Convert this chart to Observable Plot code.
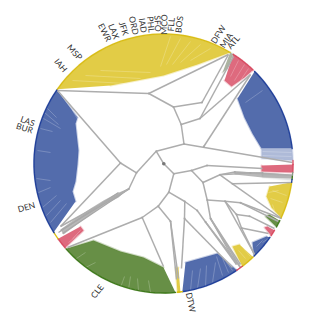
<!DOCTYPE html>
<html><head><meta charset="utf-8">
<script src="https://cdn.jsdelivr.net/npm/d3@7"></script>
<script src="https://cdn.jsdelivr.net/npm/@observablehq/plot@0.6"></script>
<style>html,body{margin:0;padding:0;background:#fff}svg{display:block}</style>
</head><body><div id="c"></div>
<script>
// Airport labels: name, x, y, rotation
const airports = [
 ["IAH",60,65,50],["MSP",74,52,48],["EWR",104,32,63],["LAX",113,31,68],["JFK",123,28,72],
 ["ORD",133,25,77],["IAD",142,25,81],["PHL",150,24,84],["SFO",157,23,87],
 ["MCO",164,24,-89],["FLL",171,24,-86],["BOS",179,24,-83],
 ["DFW",218,34,-58],["MIA",226,40,-55],["ATL",233,42,-50],
 ["LAS",27,121,20],["BUR",24,128,17],["DEN",26,207,-16],["CLE",97,291,-52],["DTW",190,302,78]
];
// Tree nodes of the phylogram
const nodes = {
 root:[163.3,163.3],a:[183.5,143.5],b:[155.7,150.7],d:[173.3,173.3],e:[191,170],f:[206.5,165],
 g:[202.5,182],h:[168.3,191.7],i:[136,172.3],j:[120,162.5],k:[128.3,188.5],kk:[180.7,124],
 l:[173,106.5],m:[199.5,118],n:[201.5,102],o:[148.3,93],p:[203.3,146],q:[219.5,174.3],r:[234.3,171.5],
 s:[232,183.3],t:[206.7,199.5],u:[224.5,200.7],v:[240,202.3],x:[236,214],y:[249,215.7],w:[241,227.5],
 z:[210,218],h1:[157.7,205.7],h2:[184.3,201],h3:[170,220.7],h4:[141.7,217],h5:[184,218],h6:[196.7,210],h7:[205,221.5],
 r2:[250,172.5],r3:[262,172.5]
};
// Branch ends at the rim or at a fan
const tips = {
 iah:[57,90],top1:[228,54],top2:[233,56],atl:[250,74],blueR:[292,162],redBar:[262,168],
 lasB:[60,226],cle:[67,247],sfan:[291,182],grnA:[281,218],grnB:[278,221],redA:[274,228],redB:[268,233],
 blueS:[254,254],ylwS:[240,264],redL:[240,267],blueB:[232,267],blueC:[236,264],
 ylwB1:[176,279],ylwB2:[178,278],ylwB3:[181,268],grnB1:[163,266],dot:[292,175],bun:[262,176]
};
const treeEdges = [
 ["root","b"],["b","a"],["b","i"],["root","d"],["a","kk"],["kk","l"],["kk","m"],["l","n"],["l","o"],
 ["o","iah"],["o","top1"],["n","top1"],["m","top2"],["m","atl"],["p","atl"],["a","blueR"],
 ["i","j"],["i","k"],["j","iah"],["j","lasB"],["k","lasB"],
 ["d","e"],["d","h"],["e","f"],["e","g"],["f","redBar"],["g","q"],["g","t"],["q","r"],["q","s"],["r","r2"],["r2","r3"],["r3","bun"],
 ["q","r2"],["r2","dot"],["s","sfan"],["s","grnA"],["t","u"],["t","z"],["u","v"],["u","x"],["v","grnA"],["v","grnB"],
 ["x","y"],["x","w"],["y","redA"],["w","redB"],["w","blueS"],["u","blueS"],["z","redL"],["z","ylwS"],
 ["h","h1"],["h","h2"],["h1","h3"],["h1","h4"],["h4","cle"],["h4","grnB1"],["h3","ylwB1"],["h3","ylwB2"],
 ["h2","h5"],["h2","h6"],["h5","ylwB3"],["h5","blueB"],["h6","h7"],["h7","redL"],["h7","blueC"],["z","blueC"]
];
// Fans: id, colour, rim start, rim end, inner envelope (from rim end back to rim start)
const yellow="#e0c93c", blue="#4a64a8", green="#5f893c", red="#dc6277";
const fans = [
 ["topYellow",yellow,[57,89],[229,53],[[197,64],[163,75],[110,85]]],
 ["leftBlue",blue,[59,228],[57,90],[[77,117],[75,123],[78,150],[77,164],[75,181],[72,191],[75,201]]],
 ["rightBlue",blue,[254,71],[292,148],[[261,148],[252,133],[244,117],[237,98]]],
 ["bottomGreen",green,[175,292],[66,248],[[93,240],[120,251],[143,257],[163,267]]],
 ["bottomBlue",blue,[182,292],[235,268],[[217,253],[210,255],[185,262]]],
 ["redTop",red,[232,55],[252,70],[[244,77],[231,86],[224,80]]],
 ["redLeft",red,[58,238],[65,247],[[83,230],[80,226]]],
 ["redBar",red,[293,164],[292,172],[[261,171],[261,165]]],
 ["ylwRight",yellow,[292,182],[280,217],[[271,207],[266,196],[269,186]]],
 ["ylwSmall",yellow,[253,257],[242,266],[[232,246],[239,244]]],
 ["ylwStrip",yellow,[180,292],[177,292],[[175,267],[178,267]]],
 ["blueSmall",blue,[271,238],[254,256],[[252,242],[266,236]]],
 ["redSmall",red,[276,231],[272,236],[[264,227],[267,226]]],
 ["grnSmall",green,[281,221],[277,227],[[265,216],[269,214]]],
 ["paleBlueR","#aab6d6",[292,148],[293,160],[[261,158],[261,148]]],
 ["paleGrey","#dfe2e2",[293,174],[292,180],[[262,177],[262,172]]],
 ["paleGreenTop","#a7b09c",[229,53],[232,55],[[227,68],[222,72]]]
];
// Rim segments not covered by a fan
const rimExtras = [
 [[293,160],[293,164],"#d84a60"],[[292,172],[292,176],"#8a9a8a"],[[292,176],[292,179],"#3e7a18"],[[292,179],[292,182],"#1f3f9a"],
 [[235,268],[242,266],"#d84a60"],[[177,292],[182,292],"#dcc010"],[[58,238],[54,232],"#dcc010"],[[59,228],[54,232],"#1f3f9a"]
];
const rimColours = {[yellow]:"#d9bd17",[blue]:"#21409a",[green]:"#3f7a1c",[red]:"#d84a60"};
// Lighter strands visible inside the fans: x1,y1,x2,y2,colour
const strands = [
 [44,112,58,124,"#fff"],[43,118,60,128,"#fff"],[47,108,56,117,"#fff"],[40,128,52,131,"#fff"],[37,150,50,152,"#fff"],
 [36,178,50,180,"#fff"],[38,192,50,187,"#fff"],[42,207,56,195,"#fff"],[46,215,60,200,"#fff"],[50,222,66,203,"#fff"],
 [72,110,80,124,"#fff"],
 [73,260,85,252,"#fff"],[83,268,95,262,"#fff"],[120,287,124,276,"#fff"],[128,289,130,276,"#fff"],[138,290,137,278,"#fff"],[150,292,148,280,"#fff"],
 [190,290,192,270,"#fff"],[197,288,200,268,"#fff"],[205,286,206,265,"#fff"],[212,282,215,262,"#fff"],[222,275,216,256,"#fff"],[228,272,222,258,"#fff"],[232,270,226,262,"#fff"],
 [170,36,160,66,"#fff"],[180,38,166,64,"#fff"],[190,41,172,64,"#fff"],[200,44,180,62,"#fff"],[210,48,190,60,"#fff"],[100,70,150,72,"#fff"],[85,75,140,78,"#fff"],[72,80,125,83,"#fff"],
 [278,190,268,192,"#fff"],[282,202,270,198,"#fff"],[274,210,272,204,"#fff"],[286,195,272,190,"#fff"],[245,258,238,250,"#fff"],[250,256,243,248,"#fff"],
 [238,60,230,76,"#fff"],[244,64,234,80,"#fff"],[248,68,240,80,"#fff"],
 [72,238,80,230,"#fff"],[68,242,78,234,"#fff"],[262,90,245,102,"#fff"],[262,240,256,246,"#fff"],[268,238,262,242,"#fff"],
 [262,151,291,152,"#fff"],[262,155,291,156,"#fff"]
];
// Thick grey bundles: lower-left and right of the centre
const bundleLeft = [[128,188],[116,193],[103,200],[90,208],[78,216],[60,229],[63,234],[82,220],[103,205],[118,197]];
const bundleRight = [[234,171],[262,172],[292,174],[292,178],[262,177],[234,174]];
const bundleLines = [[128.5,188,60,230],[128.5,188.5,62,233],[118,192,58,232]];

// --- geometry helpers ---
const cx=163, cy=163, R=129.5;
const ang = p => Math.atan2(p[1]-cy,p[0]-cx);
function arc(a,b){
  const s=ang(a); let d=ang(b)-s;
  while(d<-Math.PI)d+=2*Math.PI; while(d>Math.PI)d-=2*Math.PI;
  return d3.range(0,25).map(k=>[cx+R*Math.cos(s+d*k/24),cy+R*Math.sin(s+d*k/24)]);
}
const all={...nodes,...tips};
const links=treeEdges.map(([p,q])=>({x1:all[p][0],y1:all[p][1],x2:all[q][0],y2:all[q][1]}));
const fanRows=fans.flatMap(([id,colour,a,b,inner])=>[...arc(a,b),...inner].map(p=>({id,colour,x:p[0],y:p[1]})));
const rimRows=[
 ...fans.filter(f=>rimColours[f[1]]).flatMap(([id,colour,a,b])=>arc(a,b).map(p=>({id,colour:rimColours[colour],x:p[0],y:p[1]}))),
 ...rimExtras.flatMap(([a,b,colour],i)=>arc(a,b).map(p=>({id:"x"+i,colour,x:p[0],y:p[1]})))
];
const bundleRows=[...bundleLeft.map(p=>({id:"L",x:p[0],y:p[1]})),...bundleRight.map(p=>({id:"R",x:p[0],y:p[1]}))];

const chart=Plot.plot({
  width:327,height:327,margin:0,
  x:{domain:[0,327],range:[0,327],axis:null},
  y:{domain:[0,327],range:[0,327],axis:null},
  marks:[
    Plot.line(fanRows,{x:"x",y:"y",z:"id",fill:"colour",fillOpacity:0.95,stroke:"colour",strokeWidth:2,strokeOpacity:0.3}),
    Plot.link(strands,{x1:d=>d[0],y1:d=>d[1],x2:d=>d[2],y2:d=>d[3],stroke:d=>d[4],strokeWidth:0.8,strokeOpacity:0.28}),
    Plot.line(bundleRows,{x:"x",y:"y",z:"id",fill:"#ababab",fillOpacity:0.85,stroke:"none"}),
    Plot.link(bundleLines,{x1:d=>d[0],y1:d=>d[1],x2:d=>d[2],y2:d=>d[3],stroke:"#a8a8a8",strokeWidth:1.4}),
    Plot.link(links,{x1:"x1",y1:"y1",x2:"x2",y2:"y2",stroke:"#adadad",strokeWidth:1.5}),
    Plot.dot(Object.values(nodes),{x:d=>d[0],y:d=>d[1],r:1,fill:"#a8a8a8"}),
    Plot.line(rimRows,{x:"x",y:"y",z:"id",stroke:"colour",strokeWidth:1.3}),
    Plot.dot([nodes.root],{x:d=>d[0],y:d=>d[1],r:1.8,fill:"#777"}),
    Plot.text(airports,{x:d=>d[1],y:d=>d[2],text:d=>d[0],rotate:d=>d[3],fontSize:8.5,fontFamily:"Lato",fill:"#333"})
  ]
});
document.getElementById("c").appendChild(chart);
</script></body></html>
